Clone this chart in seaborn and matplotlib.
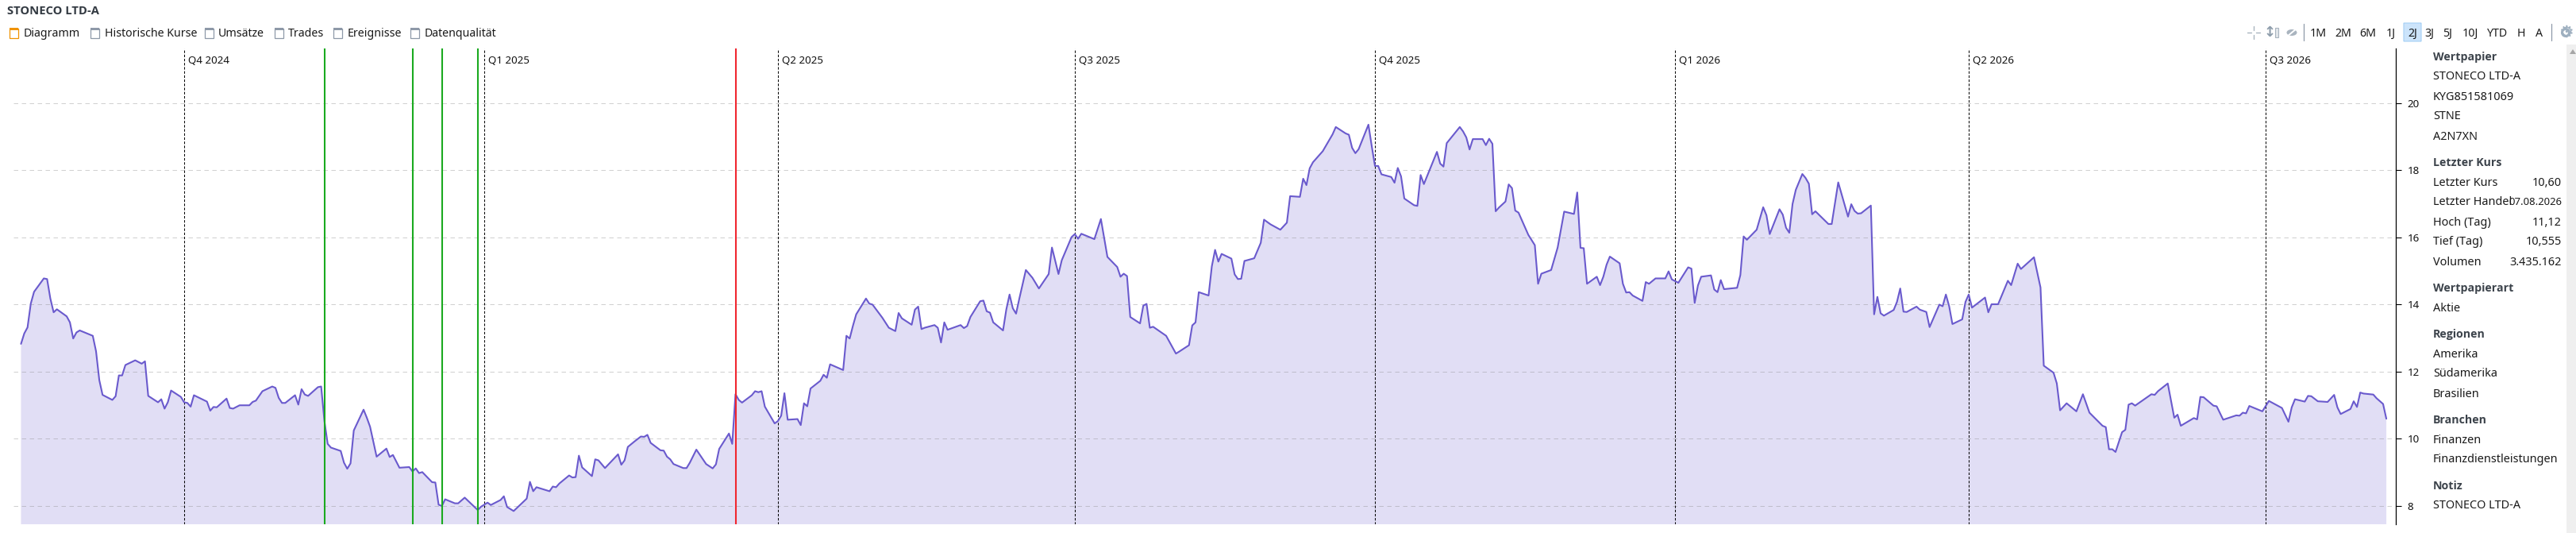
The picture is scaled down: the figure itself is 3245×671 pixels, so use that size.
import pandas as pd
import seaborn as sns
import matplotlib.pyplot as plt
from matplotlib.lines import Line2D
from matplotlib.patches import Rectangle, Ellipse, FancyBboxPatch

W, H = 3245, 671

# calendar days after 2024-10-01, closing price
days = [-50, -49, -48, -47, -46, -43, -42, -41, -40, -39, -36, -35, -34, -33, -32, -28, -27, -26, -25, -22,
        -21, -20, -19, -18, -15, -13, -12, -11, -8, -7, -6, -5, -4, -1, 0, 1, 2, 3, 7, 8,
        9, 10, 13, 14, 15, 17, 20, 21, 22, 24, 27, 28, 29, 30, 31, 34, 35, 36, 37, 38,
        41, 42, 43, 44, 45, 48, 49, 50, 51, 52, 55, 56, 57, 59, 62, 63, 64, 66, 69, 70,
        71, 72, 73, 76, 77, 78, 79, 80, 83, 84, 86, 90, 91, 93, 94, 97, 98, 99, 101, 105,
        106, 107, 108, 112, 113, 114, 115, 118, 119, 120, 121, 122, 125, 126, 127, 129, 133, 134, 135, 136,
        138, 140, 141, 142, 143, 146, 147, 148, 149, 150, 153, 154, 155, 157, 160, 162, 163, 164, 167, 168,
        169, 170, 171, 174, 175, 176, 177, 178, 181, 182, 183, 184, 185, 188, 189, 190, 191, 192, 195, 196,
        197, 198, 202, 203, 204, 205, 206, 209, 210, 211, 214, 216, 218, 219, 220, 223, 224, 225, 226, 227,
        230, 231, 232, 233, 234, 238, 239, 240, 241, 244, 245, 246, 247, 248, 251, 252, 253, 254, 255, 256,
        258, 260, 262, 265, 266, 268, 269, 272, 273, 274, 275, 279, 281, 283, 286, 287, 288, 289, 290, 293,
        294, 295, 296, 297, 301, 304, 305, 308, 309, 310, 311, 314, 315, 316, 317, 318, 321, 322, 323, 324,
        325, 328, 330, 331, 333, 336, 338, 339, 342, 343, 344, 345, 346, 349, 352, 353, 356, 357, 358, 359,
        360, 363, 364, 365, 366, 367, 370, 371, 372, 373, 374, 377, 378, 379, 380, 384, 385, 386, 387, 391,
        392, 393, 394, 395, 398, 399, 400, 401, 402, 403, 405, 406, 407, 408, 409, 412, 414, 415, 416, 419,
        421, 423, 426, 427, 428, 429, 430, 433, 434, 435, 436, 437, 440, 441, 442, 443, 444, 447, 448, 449,
        451, 454, 455, 456, 458, 461, 462, 463, 464, 465, 468, 469, 470, 471, 472, 476, 477, 478, 479, 482,
        484, 485, 486, 489, 490, 491, 492, 493, 494, 496, 497, 498, 499, 500, 504, 505, 507, 510, 511, 512,
        513, 514, 517, 518, 519, 520, 521, 524, 525, 526, 527, 528, 531, 532, 534, 535, 538, 539, 540, 541,
        542, 545, 546, 547, 548, 552, 553, 554, 556, 559, 560, 562, 563, 567, 569, 570, 573, 574, 575, 577,
        580, 582, 584, 588, 589, 590, 591, 592, 594, 595, 596, 597, 598, 603, 604, 605, 608, 610, 611, 612,
        616, 617, 618, 619, 622, 623, 625, 629, 630, 631, 632, 633, 637, 639, 643, 645, 646, 647, 650, 651,
        652, 654, 657, 659, 660, 661, 664, 665, 666, 667, 668, 671, 672, 674, 675]
close = [12.83, 13.14, 13.32, 14.03, 14.38, 14.78, 14.76, 14.18, 13.77, 13.86, 13.65, 13.47, 12.99, 13.17, 13.23, 13.07, 12.61, 11.75, 11.31, 11.16,
         11.27, 11.89, 11.89, 12.20, 12.34, 12.24, 12.31, 11.28, 11.09, 11.18, 10.90, 11.09, 11.44, 11.25, 11.09, 11.07, 10.96, 11.30, 11.11, 10.84,
         10.95, 10.94, 11.20, 10.92, 10.90, 11.00, 11.00, 11.10, 11.14, 11.42, 11.56, 11.52, 11.22, 11.07, 11.07, 11.30, 11.02, 11.48, 11.32, 11.28,
         11.54, 11.56, 10.53, 9.85, 9.74, 9.64, 9.29, 9.11, 9.27, 10.25, 10.87, 10.63, 10.36, 9.47, 9.71, 9.46, 9.52, 9.14, 9.16, 9.03,
         9.12, 8.98, 9.01, 8.71, 8.70, 8.04, 8.00, 8.20, 8.08, 8.08, 8.25, 7.88, 7.98, 8.10, 8.03, 8.18, 8.29, 7.97, 7.85, 8.22,
         8.72, 8.44, 8.56, 8.44, 8.58, 8.56, 8.67, 8.91, 8.85, 8.86, 9.50, 9.15, 8.89, 9.39, 9.36, 9.13, 9.54, 9.23, 9.36, 9.76,
         9.92, 10.07, 10.06, 10.12, 9.88, 9.66, 9.65, 9.47, 9.39, 9.25, 9.13, 9.13, 9.29, 9.68, 9.25, 9.12, 9.24, 9.70, 10.16, 9.85,
         11.33, 11.16, 11.08, 11.30, 11.42, 11.39, 11.42, 10.96, 10.46, 10.53, 10.69, 11.36, 10.57, 10.59, 10.41, 11.06, 10.97, 11.50, 11.73, 11.91,
         11.82, 12.22, 12.05, 13.07, 12.99, 13.37, 13.71, 14.18, 14.03, 14.00, 13.61, 13.31, 13.21, 13.75, 13.59, 13.40, 13.85, 13.94, 13.27, 13.31,
         13.39, 13.31, 12.87, 13.47, 13.25, 13.39, 13.30, 13.36, 13.63, 14.10, 14.12, 13.80, 13.76, 13.47, 13.23, 13.85, 14.30, 13.89, 13.73, 14.18,
         15.03, 14.80, 14.48, 14.91, 15.70, 14.91, 15.32, 16.01, 16.10, 15.96, 16.11, 15.95, 16.55, 15.42, 15.12, 14.83, 14.92, 14.85, 13.63, 13.44,
         13.97, 14.02, 13.31, 13.34, 13.07, 12.54, 12.60, 12.79, 13.38, 13.47, 14.37, 14.27, 15.14, 15.63, 15.28, 15.51, 15.37, 14.90, 14.76, 14.77,
         15.30, 15.38, 15.84, 16.53, 16.39, 16.23, 16.44, 17.23, 17.21, 17.75, 17.56, 18.06, 18.24, 18.57, 19.07, 19.29, 19.10, 19.06, 18.67, 18.51,
         18.63, 19.36, 18.73, 18.13, 18.13, 17.88, 17.80, 17.63, 18.07, 17.82, 17.16, 16.96, 16.94, 17.86, 17.59, 18.55, 18.20, 18.11, 18.81, 19.29,
         19.16, 18.98, 18.62, 18.93, 18.93, 18.75, 18.94, 18.79, 16.78, 16.89, 17.07, 17.58, 17.47, 16.80, 16.74, 16.08, 15.77, 14.62, 14.92, 15.03,
         15.70, 16.77, 16.70, 17.34, 15.69, 15.68, 14.62, 14.83, 14.58, 14.83, 15.19, 15.43, 15.23, 14.62, 14.36, 14.37, 14.27, 14.11, 14.67, 14.62,
         14.78, 14.78, 14.99, 14.75, 14.65, 15.11, 15.07, 14.05, 14.57, 14.83, 14.87, 14.45, 14.37, 14.73, 14.46, 14.50, 14.88, 16.03, 15.93, 16.23,
         16.90, 16.66, 16.10, 16.84, 16.68, 16.29, 16.14, 17.00, 17.42, 17.89, 17.77, 17.60, 16.69, 16.78, 16.40, 16.40, 17.64, 16.62, 16.99, 16.79,
         16.71, 16.72, 16.95, 13.71, 14.23, 13.74, 13.67, 13.84, 14.08, 14.48, 13.79, 13.78, 13.94, 13.85, 13.78, 13.33, 14.00, 13.95, 14.30, 13.95,
         13.42, 13.56, 14.08, 14.30, 13.91, 14.21, 13.77, 14.01, 14.01, 14.71, 14.58, 15.22, 15.06, 15.41, 14.51, 12.18, 11.97, 11.65, 10.85, 11.06,
         10.82, 11.33, 10.78, 10.39, 10.35, 9.69, 9.69, 9.61, 10.20, 10.27, 11.02, 11.06, 10.99, 11.33, 11.31, 11.42, 11.65, 10.63, 10.72, 10.39,
         10.62, 10.58, 11.25, 11.24, 10.99, 10.97, 10.57, 10.70, 10.69, 10.78, 10.76, 10.98, 10.82, 11.13, 10.92, 10.51, 10.94, 11.18, 11.11, 11.28,
         11.27, 11.12, 11.10, 11.31, 10.94, 10.74, 10.89, 11.12, 10.95, 11.38, 11.35, 11.32, 11.21, 11.04, 10.60]

quarter_dates = ["2024-10-01", "2025-01-01", "2025-04-01", "2025-07-01", "2025-10-01", "2026-01-01", "2026-04-01", "2026-07-01"]
quarter_labels = ["Q4 2024", "Q1 2025", "Q2 2025", "Q3 2025", "Q4 2025", "Q1 2026", "Q2 2026", "Q3 2026"]
buy_dates = ["2024-11-13", "2024-12-10", "2024-12-19", "2024-12-30"]
sell_dates = ["2025-03-19"]
y_ticks = [8, 10, 12, 14, 16, 18, 20]

tabs = ["Diagramm", "Historische Kurse", "Umsätze", "Trades", "Ereignisse", "Datenqualität"]
ranges = ["1M", "2M", "6M", "1J", "2J", "3J", "5J", "10J", "YTD", "H", "A"]
panel_heads = ["Wertpapier", "Letzter Kurs", "Wertpapierart", "Regionen", "Branchen", "Notiz"]
panel_lines = ["STONECO LTD-A", "KYG851581069", "STNE", "A2N7XN", "Letzter Kurs", "Letzter Handel", "Hoch (Tag)", "Tief (Tag)",
               "Volumen", "Aktie", "Amerika", "Südamerika", "Brasilien", "Finanzen", "Finanzdienstleistungen", "STONECO LTD-A"]
panel_values = ["10,60", "07.08.2026", "11,12", "10,555", "3.435.162"]

sns.set_style("white")
plt.rcParams['font.family'] = ['Noto Sans', 'DejaVu Sans']

start = pd.Timestamp("2024-10-01")
df = pd.DataFrame({'date': start + pd.to_timedelta(days, unit='D'), 'close': close})

fig = plt.figure(figsize=(W / 100, H / 100), dpi=100)
fig.patch.set_facecolor('white')
ax = fig.add_axes([17 / W, 1 - 660 / H, (3018 - 17) / W, (660 - 61) / H])
ax.patch.set_alpha(0)

LINE = '#6a5acd'
ax.fill_between(df['date'], df['close'], 0, color=LINE, alpha=0.2, linewidth=0, zorder=1)
sns.lineplot(data=df, x='date', y='close', ax=ax, color=LINE, linewidth=1.5, estimator=None, sort=False, zorder=4)

ax.set_xlim(start + pd.Timedelta(days=-52.3), start + pd.Timedelta(days=677.9))
ax.set_ylim(7.456, 21.63)
ax.set_xlabel('')
ax.set_ylabel('')
ax.set_xticks([])
ax.set_yticks(y_ticks)
ax.yaxis.tick_right()
ax.tick_params(axis='y', length=5, width=0.8, color='black', pad=5.5, labelsize=9.6, labelcolor='#111111', right=True)
for s in ['left', 'top', 'bottom']:
    ax.spines[s].set_visible(False)
ax.spines['right'].set_color('black')
ax.spines['right'].set_linewidth(0.9)
ax.yaxis.grid(True, color='#8f8f8f', alpha=0.42, linestyle=(0, (5.5, 4.5)), linewidth=0.72, zorder=2)
ax.set_axisbelow(False)

for d, lab in zip(quarter_dates, quarter_labels):
    ax.axvline(pd.Timestamp(d), color='black', linewidth=0.75, linestyle=(0, (3, 2)), zorder=3)
    ax.annotate(lab, xy=(pd.Timestamp(d), 1), xycoords=('data', 'axes fraction'), xytext=(3.4, -11),
                textcoords='offset points', ha='left', va='center', fontsize=9.6, color='#111111')
for d in buy_dates:
    ax.axvline(pd.Timestamp(d), color='#1aaa1f', linewidth=1.5, zorder=5)
for d in sell_dates:
    ax.axvline(pd.Timestamp(d), color='#f0262f', linewidth=1.5, zorder=5)


def fx(x):
    return x / W


def fy(y):
    return 1 - y / H


def put(x, y, s, **kw):
    kw.setdefault('fontsize', 10.4)
    kw.setdefault('color', '#1a1a1a')
    kw.setdefault('va', 'center')
    return fig.text(fx(x), fy(y), s, **kw)


def box(x0, y0, x1, y1, **kw):
    fig.add_artist(Rectangle((fx(x0), fy(y1)), (x1 - x0) / W, (y1 - y0) / H, transform=fig.transFigure, **kw))


def seg(x0, y0, x1, y1, color='#a9b4bf', lw=1.0):
    fig.add_artist(Line2D([fx(x0), fx(x1)], [fy(y0), fy(y1)], transform=fig.transFigure, color=color, linewidth=lw))


# header
put(9, 14, "STONECO LTD-A", fontweight='bold', family='Open Sans', fontsize=10.6, color='#333a42')
icon_x = [17, 119, 263, 351, 425, 522]
text_x = [29.5, 132, 275, 363, 437.5, 535]
for i, (ix, tx, lab) in enumerate(zip(icon_x, text_x, tabs)):
    c = '#f09300' if i == 0 else '#8e99a8'
    box(ix - 5.5, 36, ix + 5.5, 48, facecolor='white', edgecolor=c, linewidth=0.9)
    box(ix - 5.5, 35, ix + 5.5, 38, facecolor=c, edgecolor='none')
    put(tx, 42, lab, fontsize=10.2)

# toolbar
seg(2831, 41, 2836, 41)
seg(2842, 41, 2847, 41)
seg(2839, 33, 2839, 38)
seg(2839, 44, 2839, 49)
put(2859, 41, "↕", fontsize=13, color='#8e9dab', ha='center', fontweight='bold', family='DejaVu Sans')
box(2866, 35, 2870, 47, facecolor='#e3e7eb', edgecolor='#a9b4bf', linewidth=0.8)
fig.add_artist(Ellipse((fx(2887), fy(41)), 13 / W, 8 / H, transform=fig.transFigure, facecolor='#a9b4bf', edgecolor='none'))
seg(2881, 46, 2893, 36, color='white', lw=1.4)
seg(2902, 30, 2902, 51, color='#8e99a8', lw=0.9)
seg(3214, 30, 3214, 51, color='#8e99a8', lw=0.9)
fig.add_artist(FancyBboxPatch((fx(3028), fy(52)), 22 / W, 23 / H, boxstyle='round,pad=0,rounding_size=0.0005',
                              mutation_aspect=H / W, transform=fig.transFigure, facecolor='#cce4fb', edgecolor='#a5cff5', linewidth=0.8))
range_x = [2920, 2952, 2983, 3012, 3039, 3060, 3083, 3112, 3146, 3176, 3198]
for rx, lab in zip(range_x, ranges):
    put(rx, 42, lab, ha='center', fontsize=10.2)
put(3232, 41, "⚙", ha='center', fontsize=15, fontweight='bold', color='#9fb0c0', family='DejaVu Sans')
fig.add_artist(Ellipse((fx(3232), fy(41)), 9 / W, 9 / H, transform=fig.transFigure, facecolor='none', edgecolor='#9fb0c0', linewidth=2.2))

# side panel
head_y = [72, 205, 363, 421, 529, 612]
line_y = [97, 122, 147, 172, 230, 255, 280, 305, 330, 388, 446, 471, 496, 554, 579, 637]
value_y = [230, 255, 280, 305, 330]
for vy, lab in zip(value_y, panel_values):
    # the date just fits beside its label at a slightly smaller size
    put(3227, vy, lab, ha='right', fontsize=9.4 if lab == "07.08.2026" else 10.4)
for hy, lab in zip(head_y, panel_heads):
    put(3065, hy, lab, fontweight='bold', family='Open Sans', fontsize=10.2, color='#3c434b')
for ly, lab in zip(line_y, panel_lines):
    put(3065, ly, lab)

# scrollbar
box(3233, 56, 3245, 671, facecolor='#efefef', edgecolor='none')
fig.add_artist(plt.Polygon([(fx(3237), fy(68)), (fx(3245), fy(68)), (fx(3241), fy(62))], transform=fig.transFigure,
                           facecolor='#a6a6a6', edgecolor='none'))

fig.savefig('out.png', dpi=100)
